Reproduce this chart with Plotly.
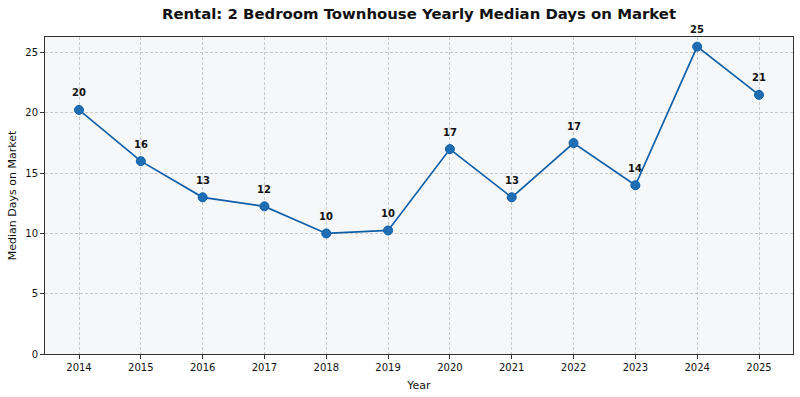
import plotly.graph_objects as go

years = [2014, 2015, 2016, 2017, 2018, 2019, 2020, 2021, 2022, 2023, 2024, 2025]
median_days = [20.25, 16, 13, 12.25, 10, 10.25, 17, 13, 17.5, 14, 25.5, 21.5]
point_labels = [str(int(v)) for v in median_days]
y_ticks = [0, 5, 10, 15, 20, 25]

title = "Rental: 2 Bedroom Townhouse Yearly Median Days on Market"

fig = go.Figure()
fig.add_trace(go.Scatter(
    x=years, y=median_days, mode="lines+markers",
    line=dict(color="#0e5fa8", width=1.7),
    marker=dict(size=9, color="#1f6db2", line=dict(color="#0e5fa8", width=1)),
    showlegend=False,
))
for x, y, t in zip(years, median_days, point_labels):
    fig.add_annotation(x=x, y=y, text="<b>" + t + "</b>", showarrow=False,
                       yshift=17, font=dict(family="DejaVu Sans", size=10, color="#111"))

axis_common = dict(
    showgrid=True, gridcolor="#c8c8c8", griddash="3px,2px", gridwidth=0.8,
    showline=True, linecolor="#333", linewidth=1, mirror=True,
    ticks="outside", ticklen=4, tickcolor="#333",
    tickfont=dict(family="DejaVu Sans", size=10, color="#111"),
    zeroline=False, automargin=False,
)
fig.update_xaxes(**axis_common, range=[2013.45, 2025.55], tickvals=years,
                 ticktext=[str(y) for y in years],
                 title=dict(text="Year", font=dict(family="DejaVu Sans", size=11, color="#111"), standoff=9))
fig.update_yaxes(**axis_common, range=[0, 26.3], tickvals=y_ticks,
                 title=dict(text="Median Days on Market", font=dict(family="DejaVu Sans", size=11, color="#111"), standoff=6))

fig.update_layout(
    width=800, height=397,
    margin=dict(l=45, r=7, t=37, b=43),
    paper_bgcolor="white", plot_bgcolor="#f6f7f9",
    title=dict(text="<b>" + title + "</b>", x=419 / 800, xanchor="center",
               y=1 - 14 / 397, yanchor="middle",
               font=dict(family="DejaVu Sans", size=14.9, color="#111")),
)
fig.write_html("out.html", config={"displayModeBar": False},
               post_script="document.body.style.margin='0';document.body.style.overflow='hidden';")
